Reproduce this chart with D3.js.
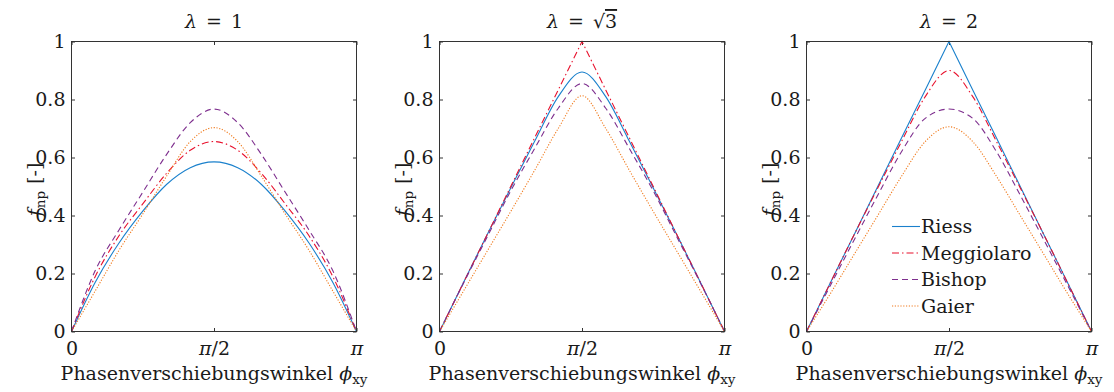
<!DOCTYPE html>
<html>
<head>
<meta charset="utf-8">
<script src="https://cdn.jsdelivr.net/npm/d3@7"></script>
<style>
  html, body { margin: 0; padding: 0; background: #fff; }
  svg { display: block; }
</style>
</head>
<body>
<script>
// ---------- data ----------
const phiDeg = [0, 15, 30, 45, 60, 75, 90, 105, 120, 135, 150, 165, 180];
const xTickLabels = ["0", "π/2", "π"];
const yTicks = [0, 0.2, 0.4, 0.6, 0.8, 1];
const seriesNames = ["Riess", "Meggiolaro", "Bishop", "Gaier"];
const lambdaLabels = ["1", "√3", "2"];

// lambda = 1
const riess1  = [0, 0.170, 0.305, 0.415, 0.507, 0.565, 0.585, 0.565, 0.507, 0.415, 0.305, 0.170, 0];
const megg1   = [0, 0.190, 0.330, 0.440, 0.545, 0.625, 0.655, 0.625, 0.545, 0.440, 0.330, 0.190, 0];
const bishop1 = [0, 0.210, 0.350, 0.480, 0.610, 0.720, 0.767, 0.720, 0.610, 0.480, 0.350, 0.210, 0];
const gaier1  = [0, 0.140, 0.280, 0.405, 0.535, 0.655, 0.703, 0.655, 0.535, 0.405, 0.280, 0.140, 0];
// lambda = sqrt(3)
const riess2  = [0, 0.167, 0.333, 0.495, 0.655, 0.810, 0.895, 0.810, 0.655, 0.495, 0.333, 0.167, 0];
const megg2   = [0, 0.167, 0.333, 0.500, 0.667, 0.833, 1.000, 0.833, 0.667, 0.500, 0.333, 0.167, 0];
const bishop2 = [0, 0.165, 0.325, 0.485, 0.630, 0.770, 0.855, 0.770, 0.630, 0.485, 0.325, 0.165, 0];
const gaier2  = [0, 0.138, 0.276, 0.414, 0.555, 0.700, 0.813, 0.700, 0.555, 0.414, 0.276, 0.138, 0];
// lambda = 2
const riess3  = [0, 0.167, 0.333, 0.500, 0.667, 0.833, 1.000, 0.833, 0.667, 0.500, 0.333, 0.167, 0];
const megg3   = [0, 0.167, 0.333, 0.495, 0.655, 0.810, 0.900, 0.810, 0.655, 0.495, 0.333, 0.167, 0];
const bishop3 = [0, 0.158, 0.315, 0.470, 0.620, 0.735, 0.767, 0.735, 0.620, 0.470, 0.315, 0.158, 0];
const gaier3  = [0, 0.130, 0.265, 0.400, 0.535, 0.655, 0.706, 0.655, 0.535, 0.400, 0.265, 0.130, 0];

const panelSeries = [
  [riess1, megg1, bishop1, gaier1],
  [riess2, megg2, bishop2, gaier2],
  [riess3, megg3, bishop3, gaier3]
];
// series whose maximum is a sharp corner (panel index -> series index)
const sharpPeak = { 1: 1, 2: 0 };

// ---------- styling ----------
const colors = ["#1a80cc", "#e8112d", "#7e2f8e", "#f07b1e"];
const dashes = [null, "7,3,1.5,3", "6,4", "1.2,1.6"];
const FONT = 19;
const SUB = 13.5;
const SERIF = "'DejaVu Serif', serif";
const TXT = "#1a1a1a";

const W = 1114, H = 392;
const lefts = [71.5, 439.5, 806.5];
const pw = 285, yTop = 41.5, yBottom = 331.5;

const svg = d3.select("body").append("svg").attr("width", W).attr("height", H)
  .attr("font-family", SERIF);

panelSeries.forEach((series, pi) => {
  const L = lefts[pi];
  const x = d3.scaleLinear().domain([0, Math.PI]).range([L, L + pw]);
  const y = d3.scaleLinear().domain([0, 1]).range([yBottom, yTop]);
  const g = svg.append("g");

  // axes
  const axCol = "#333";
  const xTickVals = [0, Math.PI / 2, Math.PI];
  const gl = g.append("g").attr("transform", `translate(${L},0)`)
    .call(d3.axisLeft(y).tickValues(yTicks).tickSize(-3.5).tickPadding(6)
      .tickFormat(d => String(d)));
  const gb = g.append("g").attr("transform", `translate(0,${yBottom})`)
    .call(d3.axisBottom(x).tickValues(xTickVals).tickSize(-3.5).tickPadding(10)
      .tickFormat((d, i) => xTickLabels[i]));
  const gt = g.append("g").attr("transform", `translate(0,${yTop})`)
    .call(d3.axisTop(x).tickValues(xTickVals).tickSize(-3.5).tickFormat(""));
  const gr = g.append("g").attr("transform", `translate(${L + pw},0)`)
    .call(d3.axisRight(y).tickValues(yTicks).tickSize(-3.5).tickFormat(""));
  [gl, gb, gt, gr].forEach(a => {
    a.attr("font-family", SERIF).attr("font-size", FONT);
    a.select(".domain").remove();
    a.selectAll("line").attr("stroke", axCol);
    a.selectAll("text").attr("fill", TXT);
  });
  // italic pi in the x tick labels
  gb.selectAll("text").each(function () {
    const s = d3.select(this);
    const lbl = s.text();
    if (lbl.includes("π")) {
      s.text(null);
      s.append("tspan").style("font-style", "italic").text("π");
      s.append("tspan").text(lbl.replace("π", ""));
    }
  });

  // lines
  series.forEach((vals, si) => {
    const pts = phiDeg.map((d, k) => [d * Math.PI / 180, vals[k]]);
    const curve = sharpPeak[pi] === si ? d3.curveLinear : d3.curveMonotoneX;
    const line = d3.line().x(d => x(d[0])).y(d => y(d[1])).curve(curve);
    g.append("path").datum(pts).attr("d", line)
      .attr("fill", "none").attr("stroke", colors[si]).attr("stroke-width", 1.1)
      .attr("stroke-dasharray", dashes[si]);
  });

  // box
  g.append("rect").attr("x", L).attr("y", yTop).attr("width", pw).attr("height", yBottom - yTop)
    .attr("fill", "none").attr("stroke", axCol).attr("stroke-width", 1);

  // title
  const t = g.append("text").attr("x", L + pw / 2).attr("y", 28).attr("text-anchor", "middle")
    .attr("font-size", FONT).attr("fill", TXT);
  t.append("tspan").style("font-style", "italic").text("λ");
  t.append("tspan").attr("dx", 9).text("=");
  const lab = lambdaLabels[pi];
  if (lab.startsWith("√")) {
    t.append("tspan").attr("dx", 9).text("√");
    t.append("tspan").style("text-decoration", "overline").text(lab.slice(1));
  } else {
    t.append("tspan").attr("dx", 9).text(lab);
  }

  // y label
  const yl = g.append("text").attr("transform", `translate(${L - 31},${(yTop + yBottom) / 2 + 3}) rotate(-90)`)
    .attr("text-anchor", "middle").attr("font-size", FONT).attr("fill", TXT);
  yl.append("tspan").style("font-style", "italic").text("f");
  yl.append("tspan").attr("font-size", SUB).attr("dy", 4).attr("dx", 1).text("np");
  yl.append("tspan").attr("dy", -4).attr("dx", 7).text("[-]");

  // x label
  const xl = g.append("text").attr("x", L + pw / 2).attr("y", 380).attr("text-anchor", "middle")
    .attr("font-size", FONT).attr("fill", TXT);
  xl.append("tspan").text("Phasenverschiebungswinkel ");
  xl.append("tspan").style("font-style", "italic").text("ϕ");
  xl.append("tspan").attr("font-size", SUB).attr("dy", 4).text("xy");

  // legend (third panel)
  if (pi === 2) {
    const lx0 = 892, lx1 = 920, ly0 = 226.5, dy = 26.5;
    seriesNames.forEach((name, si) => {
      const yy = ly0 + si * dy;
      g.append("line").attr("x1", lx0).attr("x2", lx1).attr("y1", yy).attr("y2", yy)
        .attr("stroke", colors[si]).attr("stroke-width", 1.1).attr("stroke-dasharray", dashes[si]);
      g.append("text").attr("x", lx1 + 1).attr("y", yy).attr("dy", "0.36em")
        .attr("font-size", FONT).attr("fill", TXT).text(name);
    });
  }
});
</script>
</body>
</html>
